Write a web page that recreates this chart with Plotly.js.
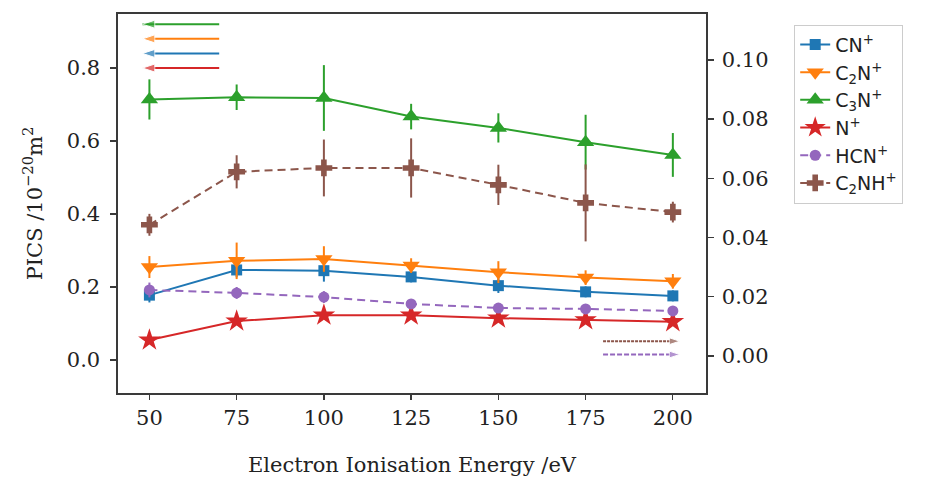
<!DOCTYPE html>
<html>
<head>
<meta charset="utf-8">
<script src="https://cdn.plot.ly/plotly-3.0.1.min.js"></script>
<style>html,body{margin:0;padding:0;background:#fff;}#chart{width:943px;height:482px;}</style>
</head>
<body>
<div id="chart"></div>
<script>
// Electron energies (eV)
const energy = [50, 75, 100, 125, 150, 175, 200];
const xTicks = [50, 75, 100, 125, 150, 175, 200];

// Left-axis series (PICS / 1e-20 m^2)
const cn      = [0.178, 0.247, 0.245, 0.228, 0.204, 0.187, 0.176];
const cnErr   = [0.02, 0.02, 0.03, 0.015, 0.02, 0.015, 0.015];
const c2n     = [0.255, 0.272, 0.277, 0.259, 0.241, 0.226, 0.216];
const c2nErr  = [0.03, 0.05, 0.035, 0.02, 0.03, 0.02, 0.02];
const c3n     = [0.714, 0.720, 0.718, 0.667, 0.636, 0.597, 0.562];
const c3nErr  = [0.055, 0.035, 0.09, 0.035, 0.04, 0.075, 0.06];
const nPlus   = [0.055, 0.107, 0.123, 0.123, 0.115, 0.110, 0.105];
const nErr    = [0.008, 0.01, 0.01, 0.01, 0.01, 0.01, 0.01];

// Right-axis series
const hcn     = [0.0223, 0.0213, 0.0199, 0.0176, 0.0162, 0.0159, 0.0152];
const hcnErr  = [0.0025, 0.002, 0.002, 0.0015, 0.0015, 0.0015, 0.0015];
const c2nh    = [0.0443, 0.0622, 0.0635, 0.0635, 0.0578, 0.0517, 0.0486];
const c2nhErr = [0.0037, 0.0056, 0.0096, 0.010, 0.0068, 0.013, 0.0035];

// Axis indicator arrows (data coordinates: from -> to)
const leftArrowX  = [70, 48];
const leftArrowY  = [0.92, 0.88, 0.84, 0.80];
const rightArrowX = [180, 202];
const rightArrowY = [0.005, 0.0005];

const C = {blue:'#1f77b4', orange:'#ff7f0e', green:'#2ca02c', red:'#d62728', purple:'#9467bd', brown:'#8c564b'};

function series(name, y, err, color, symbol, size, dash, yaxis) {
  return {
    x: energy, y: y, name: name, type: 'scatter', mode: 'lines+markers',
    yaxis: yaxis, legendgroup: name,
    line: {color: color, width: 2, dash: dash},
    marker: {color: color, symbol: symbol, size: size},
    error_y: {type: 'data', array: err, visible: true, color: color, thickness: 2, width: 0}
  };
}

const traces = [
  series('CN<sup>+</sup>', cn, cnErr, C.blue, 'square', 11, 'solid', 'y'),
  series('C<sub>2</sub>N<sup>+</sup>', c2n, c2nErr, C.orange, 'triangle-down', 15, 'solid', 'y'),
  series('C<sub>3</sub>N<sup>+</sup>', c3n, c3nErr, C.green, 'triangle-up', 15, 'solid', 'y'),
  series('N<sup>+</sup>', nPlus, nErr, C.red, 'star', 17, 'solid', 'y'),
  series('HCN<sup>+</sup>', hcn, hcnErr, C.purple, 'circle', 11, '8px,5px', 'y2'),
  series('C<sub>2</sub>NH<sup>+</sup>', c2nh, c2nhErr, C.brown, 'cross', 14, '8px,5px', 'y2')
];

const leftColors = [C.green, C.orange, C.blue, C.red];
leftArrowY.forEach((yv, i) => {
  traces.push({
    x: leftArrowX, y: [yv, yv], type: 'scatter', mode: 'lines+markers', yaxis: 'y',
    showlegend: false, hoverinfo: 'skip',
    line: {color: leftColors[i], width: 2},
    marker: {color: leftColors[i], symbol: 'arrow', angleref: 'previous', size: [0, 13]}
  });
});
const rightColors = [C.brown, C.purple];
rightArrowY.forEach((yv, i) => {
  traces.push({
    x: rightArrowX, y: [yv, yv], type: 'scatter', mode: 'lines+markers', yaxis: 'y2',
    showlegend: false, hoverinfo: 'skip',
    line: {color: rightColors[i], width: 2, dash: i === 0 ? '3px,1px' : '5px,2px'},
    marker: {color: rightColors[i], symbol: 'arrow', angleref: 'previous', size: [0, 11]}
  });
});

const serif = 'DejaVu Serif, serif';
const axCol = '#3a3a3a';
const tickFont = {family: serif, size: 21, color: '#222'};
const layout = {
  width: 943, height: 482,
  margin: {l: 118, r: 237, t: 14, b: 89},
  paper_bgcolor: '#fff', plot_bgcolor: '#fff',
  showlegend: true,
  font: {family: serif, size: 21, color: '#222'},
  xaxis: {
    range: [41, 209.5], tickvals: xTicks, ticks: 'outside', ticklen: 5, tickwidth: 1.3, tickcolor: axCol,
    showgrid: false, zeroline: false, showline: true, mirror: true, linecolor: axCol, linewidth: 1.6,
    tickfont: tickFont,
    title: {text: 'Electron Ionisation Energy /eV', font: {family: serif, size: 21, color: '#222'}, standoff: 28}
  },
  yaxis: {
    range: [-0.09, 0.948], tickvals: [0.0, 0.2, 0.4, 0.6, 0.8], ticktext: ['0.0','0.2','0.4','0.6','0.8'],
    ticks: 'outside', ticklen: 6, tickwidth: 1.3, tickcolor: axCol, ticklabelstandoff: 6,
    showgrid: false, zeroline: false, showline: true, linecolor: axCol, linewidth: 1.6,
    tickfont: tickFont,
    title: {text: 'PICS /10<sup>−20</sup>m<sup>2</sup>', font: {family: serif, size: 21, color: '#222'}, standoff: 18}
  },
  yaxis2: {
    overlaying: 'y', side: 'right', range: [-0.0125, 0.1155],
    tickvals: [0, 0.02, 0.04, 0.06, 0.08, 0.10], ticktext: ['0.00','0.02','0.04','0.06','0.08','0.10'],
    ticks: 'outside', ticklen: 6, tickwidth: 1.3, tickcolor: axCol, ticklabelstandoff: 4,
    showgrid: false, zeroline: false, showline: true, linecolor: axCol, linewidth: 1.6,
    tickfont: tickFont
  },
  legend: {
    x: 1.15, y: 0.972, xanchor: 'left', yanchor: 'top',
    bordercolor: '#cccccc', borderwidth: 1, bgcolor: '#fff',
    font: {family: 'DejaVu Sans, sans-serif', size: 19, color: '#222'},
    traceorder: 'grouped', tracegroupgap: 0
  }
};

Plotly.newPlot('chart', traces, layout, {displayModeBar: false, staticPlot: true});
</script>
</body>
</html>
